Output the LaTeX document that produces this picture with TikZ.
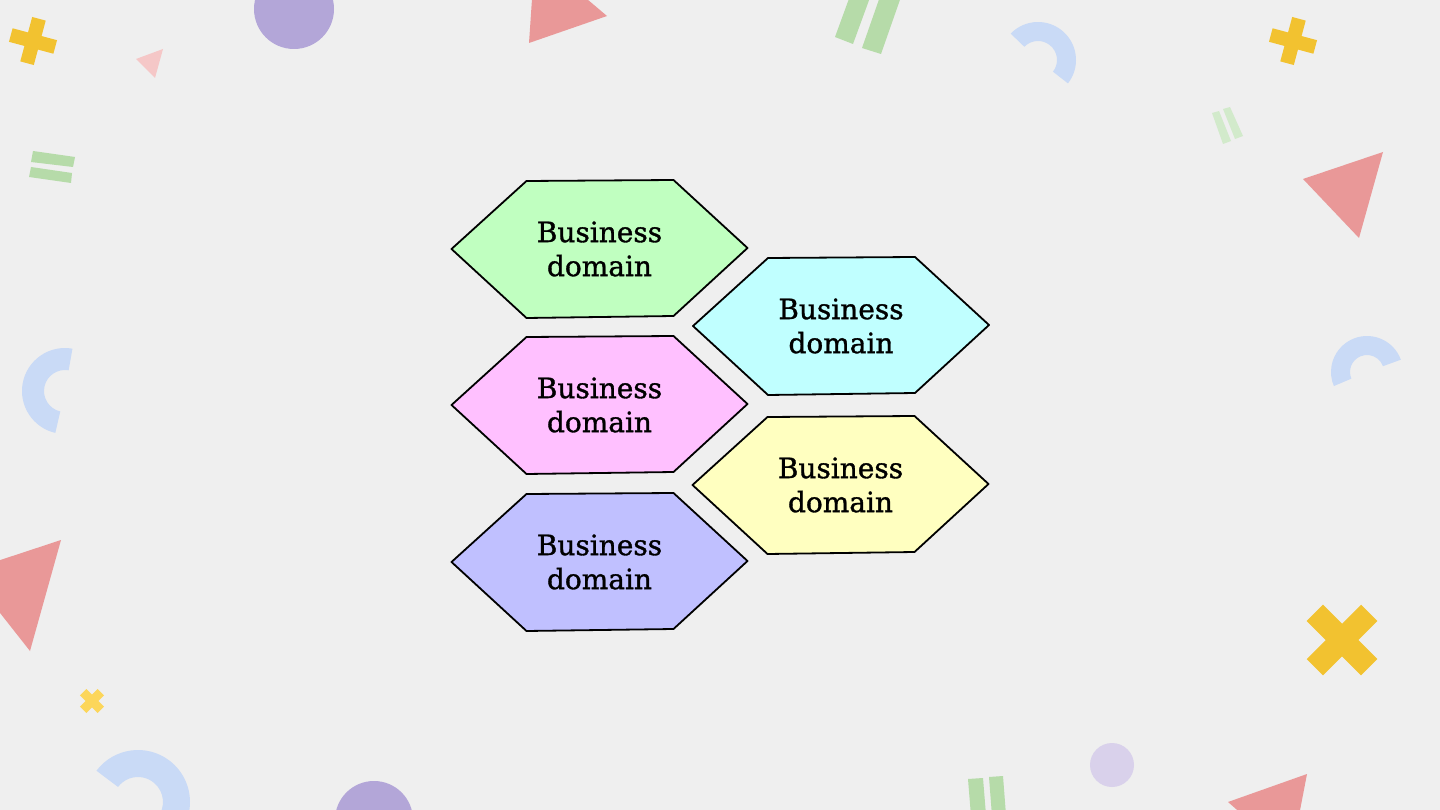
\documentclass[tikz,border=0pt]{standalone}
\usepackage{fontspec}
\setmainfont{DejaVu Serif}
\newfontfamily\bdfont[FakeBold=1.2]{DejaVu Serif}
\definecolor{bgc}{HTML}{EFEFEF}
\definecolor{yel}{HTML}{F2C230}
\definecolor{yelb}{HTML}{FCD65A}
\definecolor{purp}{HTML}{B3A6D8}
\definecolor{purpl}{HTML}{D9D1EB}
\definecolor{pinkl}{HTML}{F5C7C7}
\definecolor{grn}{HTML}{B6DBA9}
\definecolor{grnl}{HTML}{D2EACB}
\definecolor{salm}{HTML}{E99898}
\definecolor{blul}{HTML}{C9DAF6}
\definecolor{hgreen}{HTML}{C0FFC0}
\definecolor{hcyan}{HTML}{C0FFFF}
\definecolor{hpink}{HTML}{FFC0FF}
\definecolor{hyellow}{HTML}{FFFFC0}
\definecolor{hblue}{HTML}{C0C0FF}
\newcommand\bdhex[4]{%
  \filldraw[hexline,fill=#4,shift={(#2,#3)}] (-148,0) -- (-73,-68) -- (74,-69) -- (148,-1) -- (74,67) -- (-73,69) -- cycle;
  \node[bdtext] (#1) at (#2,#3) {Business\\domain};}
\newcommand\ringpart[6]{% cx cy ro ri start end (tikz angles)
  \fill[blul] (#1,#2) ++(#5:#3) arc[start angle=#5,end angle=#6,radius=#3] -- ++(#6:#4-#3) arc[start angle=#6,end angle=#5,radius=#4] -- cycle;}
\begin{document}
\begin{tikzpicture}[x=1pt,y=-1pt,
  hexline/.style={draw=black,line width=1.8pt,line join=round},
  bdtext/.style={align=center,font=\bdfont\fontsize{28}{34}\selectfont,inner sep=0pt,text=black}]
\useasboundingbox (0,0) rectangle (1440,810);
\fill[bgc] (0,0) rectangle (1440,810);
\clip (0,0) rectangle (1440,810);
% plus signs
\fill[yel,shift={(33,41)},rotate=-15] (-23,-7) rectangle (23,7) (-7,-23) rectangle (7,23);
\fill[yel,shift={(1293,41)},rotate=-15] (-23,-7) rectangle (23,7) (-7,-23) rectangle (7,23);
% crosses
\fill[yel,shift={(1342,640)},rotate=45] (-38.5,-11.5) rectangle (38.5,11.5) (-11.5,-38.5) rectangle (11.5,38.5);
\fill[yelb,shift={(92,701)},rotate=45] (-12.5,-4.5) rectangle (12.5,4.5) (-4.5,-12.5) rectangle (4.5,12.5);
% circles
\fill[purp] (294,9) circle[radius=40];
\fill[purp] (374,820) circle[radius=39];
\fill[purpl] (1112,765) circle[radius=22];
% triangles
\fill[pinkl] (136,59) -- (163,49) -- (155,78) -- cycle;
\fill[salm] (529,43) -- (607,16) -- (535,-45) -- cycle;
\fill[salm] (1303,179) -- (1383,152) -- (1359,238) -- cycle;
\fill[salm] (61,540) -- (30,651) -- (-33,571) -- cycle;
\fill[salm] (1228,802) -- (1307,774) -- (1291,857) -- cycle;
% bars
\fill[grn] (33,151) -- (75,157) -- (73,167) -- (31,162) -- cycle;
\fill[grn] (31,167) -- (72,173) -- (71,183) -- (29,177) -- cycle;
\fill[grn] (835,37) -- (853,44) -- (872,-8) -- (854,-15) -- cycle;
\fill[grn] (862,48) -- (881,54) -- (902,-6) -- (883,-12) -- cycle;
\fill[grnl] (1212,113) -- (1219,111) -- (1231,141) -- (1223,144) -- cycle;
\fill[grnl] (1223,109) -- (1230,107) -- (1243,136) -- (1235,139) -- cycle;
\fill[grn] (968,779) -- (983,778) -- (986,815) -- (971,816) -- cycle;
\fill[grn] (989,777) -- (1003,776) -- (1006,815) -- (992,816) -- cycle;
% rings
\ringpart{1038}{60}{38}{19}{-136}{38}
\ringpart{1367}{372}{36}{17}{-20}{-203}
\ringpart{65}{391}{43}{21}{-80}{-257}
\ringpart{138}{802}{52}{25}{-143}{40}
% hexagons
\bdhex{d1}{599.5}{249}{hgreen}
\bdhex{d2}{841}{326}{hcyan}
\bdhex{d3}{599.5}{405}{hpink}
\bdhex{d4}{840.5}{485}{hyellow}
\bdhex{d5}{599.5}{562}{hblue}
\end{tikzpicture}
\end{document}
